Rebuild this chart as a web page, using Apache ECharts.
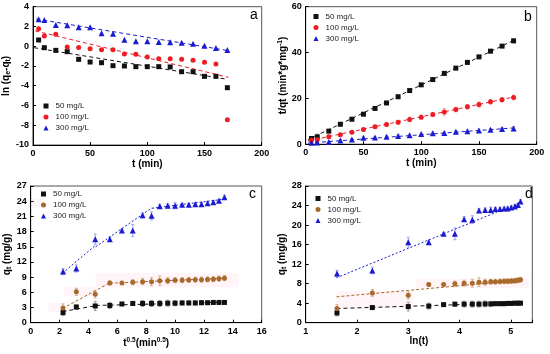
<!DOCTYPE html>
<html><head><meta charset="utf-8">
<script src="https://cdn.jsdelivr.net/npm/echarts@6/dist/echarts.min.js"></script>
<style>html,body{margin:0;padding:0;background:#fff}#c{width:550px;height:354px}</style>
</head><body><div id="c"></div>
<script>
// ---------- data ----------
const tA = [5,10,20,30,40,50,60,70,80,90,100,110,120,130,140,150,160,170];
const a50 = [0.63,-0.15,-0.42,-0.55,-1.33,-1.6,-1.67,-1.97,-2.0,-2.07,-2.07,-2.07,-2.1,-2.58,-2.58,-3.05,-3.05,-4.2];
const a100 = [1.77,1.03,1.2,-0.08,-0.12,-0.25,-0.35,-0.35,-0.79,-0.82,-1.09,-1.26,-1.26,-1.33,-1.43,-1.63,-1.8,-7.44];
const a300 = [2.72,2.65,2.15,2.11,1.91,1.91,1.3,1.27,0.66,0.49,0.49,0.43,0.39,0.36,0.26,0.05,-0.18,-0.38];
const aFit50 = [[1,-0.15],[170,-3.35]];
const aFit100 = [[2,1.55],[171,-3.15]];
const aFit300 = [[3,2.75],[171,-0.45]];

const tB = [5,10,20,30,40,50,60,70,80,90,100,110,120,130,140,150,160,170,180];
const b50 = [2.5,3.2,5.7,8.7,10.9,13.1,15.6,18.0,20.7,23.4,25.9,28.2,30.9,33.2,35.7,38.1,40.6,42.8,45.1];
const b100 = [1.75,1.9,3.3,4.1,5.2,6.4,7.6,8.6,9.6,10.8,11.8,13.0,14.1,15.1,16.3,17.3,18.5,19.4,20.4];
const b300 = [0.6,0.7,1.0,1.6,2.0,2.8,2.9,3.3,3.6,3.9,4.4,4.8,4.9,5.4,5.7,6.0,6.3,6.6,6.8];
const b50Err = [0.5,1.2,0.6,0.6,0.7,0.6,0.5,0.6,0.8,0.7,0.6,0.7,0.6,0.6,0.7,0.6,0.6,0.6,0.8];
const b100Err = [0.4,0.5,0.6,0.6,0.6,0.7,0.7,0.8,0.8,1.0,0.9,0.9,1.5,1.0,1.0,1.1,1.0,1.0,1.0];
const b300Err = [0.3,0.3,0.3,0.4,0.4,0.4,0.4,0.4,0.5,0.5,0.5,0.6,0.5,0.5,0.5,0.6,0.6,0.6,0.9];
const bFit50 = [[2,2.0],[180,45.3]];
const bFit100 = [[2,1.4],[180,20.6]];
const bFit300 = [[2,0.5],[180,7.1]];

const xC = [2.24,3.16,4.47,5.48,6.32,7.07,7.75,8.37,8.94,9.49,10,10.49,10.95,11.4,11.83,12.25,12.65,13.04,13.42];
const xD = [1.61,2.3,3.0,3.4,3.69,3.91,4.09,4.25,4.38,4.5,4.61,4.7,4.79,4.87,4.94,5.01,5.08,5.14,5.19];
const q50 = [2.0,3.1,3.3,3.4,3.7,3.8,3.8,3.8,3.8,3.85,3.85,3.9,3.9,3.9,3.95,3.95,4.0,4.0,4.0];
const q100 = [2.9,6.1,5.6,7.85,7.85,8.0,8.1,8.1,8.3,8.3,8.4,8.4,8.45,8.5,8.5,8.55,8.6,8.7,8.8];
const q300 = [10.1,10.7,16.5,16.5,18.2,18.2,21.2,21.1,23.0,23.1,23.1,23.3,23.3,23.4,23.4,23.6,23.8,24.1,24.8];
const e50 = [0.6,0.4,0.9,0.6,0.3,0.4,0.6,0.6,0.6,0.6,0.5,0.4,0.4,0.4,0.4,0.3,0.3,0.3,0.3];
const e100 = [0.8,0.7,0.7,0.4,0.3,0.5,0.6,0.8,0.9,0.6,0.5,0.5,0.5,0.5,0.5,0.5,0.5,0.5,0.5];
const e300 = [0.6,0.7,1.0,0.4,0.3,1.2,0.5,0.8,0.4,0.4,0.6,0.3,0.3,0.3,0.3,0.3,0.3,0.3,0.4];
const cFit50 = [[[2.2,2.2],[4.5,3.35]],[[4.5,3.4],[13.4,4.05]]];
const cFit100 = [[[2.2,2.8],[5.5,7.9]],[[5.5,7.8],[13.4,8.8]]];
const cFit300 = [[[2.2,9.8],[4.5,15.3]],[[4.5,15.0],[8.4,22.7]],[[8.4,22.6],[13.4,24.4]]];
const dFit50 = [[1.6,2.9],[5.2,4.1]];
const dFit100 = [[1.6,5.3],[5.2,8.7]];
const dFit300 = [[1.6,9.2],[5.2,24.7]];
const cBands = [[1.2,2.1,2.25,3.9],[2.3,5.2,4.6,7.1],[4.5,7.0,14.4,9.8],[0,22.7,0.9,24.5]];
const dBands = [[3.15,7.1,5.35,9.0],[1.6,3.0,3.1,6.5]];
const legendNames = ['50 mg/L','100 mg/L','300 mg/L'];

// ---------- style ----------
const FONT = 'Liberation Sans, Arial, sans-serif';
const K = '#111', R = '#ee1c24', B = '#1a1ad0', BR = '#a86a2c';
const KE = '#9a9a9a', RE = '#f4a4a8', BE = '#a0a0f2', BRE = '#d0b08c';
const RICH = {
  sub:{fontFamily:FONT,fontSize:7,fontWeight:'bold',color:'#000',padding:[5,0,0,0]},
  sup:{fontFamily:FONT,fontSize:6.5,fontWeight:'bold',color:'#000',padding:[0,0,6,0]}
};

const grids = [
  {left:30.7, top:6.7, width:231, height:138.3},
  {left:305.7, top:6.7, width:231, height:137.5},
  {left:30.7, top:186, width:231, height:136.7},
  {left:305.7, top:186, width:226.6, height:136.7}
].map(g => Object.assign(g, {show:true, borderColor:'#555', borderWidth:1, backgroundColor:'transparent'}));

function ax(gi, min, max, interval, name, gap, fmt) {
  return {type:'value', gridIndex:gi, min, max, interval, name, nameLocation:'middle', nameGap:gap,
    nameTextStyle:{fontFamily:FONT,fontSize:10,fontWeight:'bold',color:'#000',rich:RICH},
    axisLine:{show:true,onZero:false,lineStyle:{color:'#000',width:1}},
    axisTick:{show:true,inside:true,length:3,lineStyle:{color:'#000'}},
    splitLine:{show:false},
    axisLabel:{fontFamily:FONT,fontSize:9,fontWeight:'bold',color:'#000',margin:4,formatter:fmt||'{value}'}
  };
}
const intFmt = v => (Math.abs(v - Math.round(v)) < 1e-6 ? String(Math.round(v)) : '');

const xAxes = [
  ax(0,0,200,50,'t (min)',13),
  ax(1,0,200,50,'t (min)',13),
  ax(2,0,16,2,'t{sup|0.5}(min{sup|0.5})',13),
  ax(3,1,5.42,1,'ln(t)',13,intFmt)
];
const yAxes = [
  ax(0,-10,4,2,'ln (q{sub|e}-q{sub|t})',15),
  ax(1,0,60,20,'t/qt (min*g*mg{sup|-1})',15),
  ax(2,0,27,3,'q{sub|t} (mg/g)',15),
  ax(3,0,28,4,'q{sub|t} (mg/g)',15)
];

const series = [];
function scatter(gi, pfx, nm, xs, ys, color, sym, size) {
  series.push({type:'scatter', name:pfx+nm, xAxisIndex:gi, yAxisIndex:gi, symbol:sym, symbolSize:size,
    itemStyle:{color:color, opacity:1}, z:5, silent:true,
    data: xs.map((x,i)=>[x, ys[i]])});
}
function errs(gi, xs, ys, es, color) {
  series.push({type:'custom', xAxisIndex:gi, yAxisIndex:gi, silent:true, z:2,
    encode:{x:0,y:1},
    data: xs.map((x,i)=>[x, ys[i], es[i]]),
    renderItem:(p,api)=>{
      const x=api.value(0), y=api.value(1), e=api.value(2);
      const a=api.coord([x,y+e]), b=api.coord([x,y-e]); const w=1.5;
      const st={stroke:color,lineWidth:1};
      return {type:'group',children:[
        {type:'line',shape:{x1:a[0],y1:a[1],x2:b[0],y2:b[1]},style:st},
        {type:'line',shape:{x1:a[0]-w,y1:a[1],x2:a[0]+w,y2:a[1]},style:st},
        {type:'line',shape:{x1:b[0]-w,y1:b[1],x2:b[0]+w,y2:b[1]},style:st}
      ]};
    }});
}
function fit(gi, pts, color, dash, extra) {
  series.push(Object.assign({type:'line', xAxisIndex:gi, yAxisIndex:gi, data:pts, symbol:'none', silent:true, z:3,
    lineStyle:{color:color, width:1, type:dash}}, extra||{}));
}
function bands(gi, list) {
  series.push({type:'line', xAxisIndex:gi, yAxisIndex:gi, data:[], silent:true,
    markArea:{silent:true, itemStyle:{color:'rgba(255,175,195,0.14)'},
      data:list.map(b=>[{xAxis:b[0],yAxis:b[1]},{xAxis:b[2],yAxis:b[3]}])}});
}
// panel a
fit(0,aFit50,K,[4,3]); fit(0,aFit100,R,[4,3]); fit(0,aFit300,B,[4,3]);
scatter(0,'a|','50 mg/L',tA,a50,K,'rect',5);
scatter(0,'a|','100 mg/L',tA,a100,R,'circle',5);
scatter(0,'a|','300 mg/L',tA,a300,B,'triangle',6);
// panel b
errs(1,tB,b50,b50Err,KE); errs(1,tB,b100,b100Err,RE); errs(1,tB,b300,b300Err,BE);
fit(1,bFit50,K,[4,3]); fit(1,bFit100,R,[4,3]); fit(1,bFit300,B,[4,3]);
scatter(1,'b|','50 mg/L',tB,b50,K,'rect',5);
scatter(1,'b|','100 mg/L',tB,b100,R,'circle',5);
scatter(1,'b|','300 mg/L',tB,b300,B,'triangle',6);
// panel c
bands(2,cBands);
errs(2,xC,q50,e50,KE); errs(2,xC,q100,e100,BRE); errs(2,xC,q300,e300,BE);
cFit50.forEach(s=>fit(2,s,K,[4,3])); cFit100.forEach(s=>fit(2,s,BR,[3,2])); cFit300.forEach(s=>fit(2,s,B,[2,2]));
scatter(2,'c|','50 mg/L',xC,q50,K,'rect',5);
scatter(2,'c|','100 mg/L',xC,q100,BR,'circle',5);
scatter(2,'c|','300 mg/L',xC,q300,B,'triangle',6);
// panel d
bands(3,dBands);
errs(3,xD,q50,e50,KE); errs(3,xD,q100,e100,BRE); errs(3,xD,q300,e300,BE);
fit(3,dFit50,K,[4,3]); fit(3,dFit100,BR,[3,2]); fit(3,dFit300,B,[2,2]);
scatter(3,'d|','50 mg/L',xD,q50,K,'rect',5);
scatter(3,'d|','100 mg/L',xD,q100,BR,'circle',5);
scatter(3,'d|','300 mg/L',xD,q300,B,'triangle',6);

function legend(pfx, left, top) {
  return {orient:'vertical', left, top, padding:0, itemWidth:5, itemHeight:5, itemGap:3,
    selectedMode:false, data:legendNames.map(n=>pfx+n), formatter:n=>n.slice(2),
    textStyle:{fontFamily:FONT,fontSize:8,color:'#222',lineHeight:5,padding:[0,0,0,2]}};
}

const labels = [['a',255,17],['b',529,19],['c',254,196],['d',530,196]].map(l=>({
  type:'text', left:l[1]-5, top:l[2]-9, silent:true,
  style:{text:l[0], fontFamily:FONT, fontSize:14, fill:'#000'}}));

const chart = echarts.init(document.getElementById('c'), null, {renderer:'canvas'});
chart.setOption({
  animation:false, backgroundColor:'#fff',
  grid:grids, xAxis:xAxes, yAxis:yAxes, series,
  legend:[legend('a|',43.5,102),legend('b|',313.5,12.5),legend('c|',41,190),legend('d|',315.5,194.5)],
  graphic:labels
});
</script></body></html>
